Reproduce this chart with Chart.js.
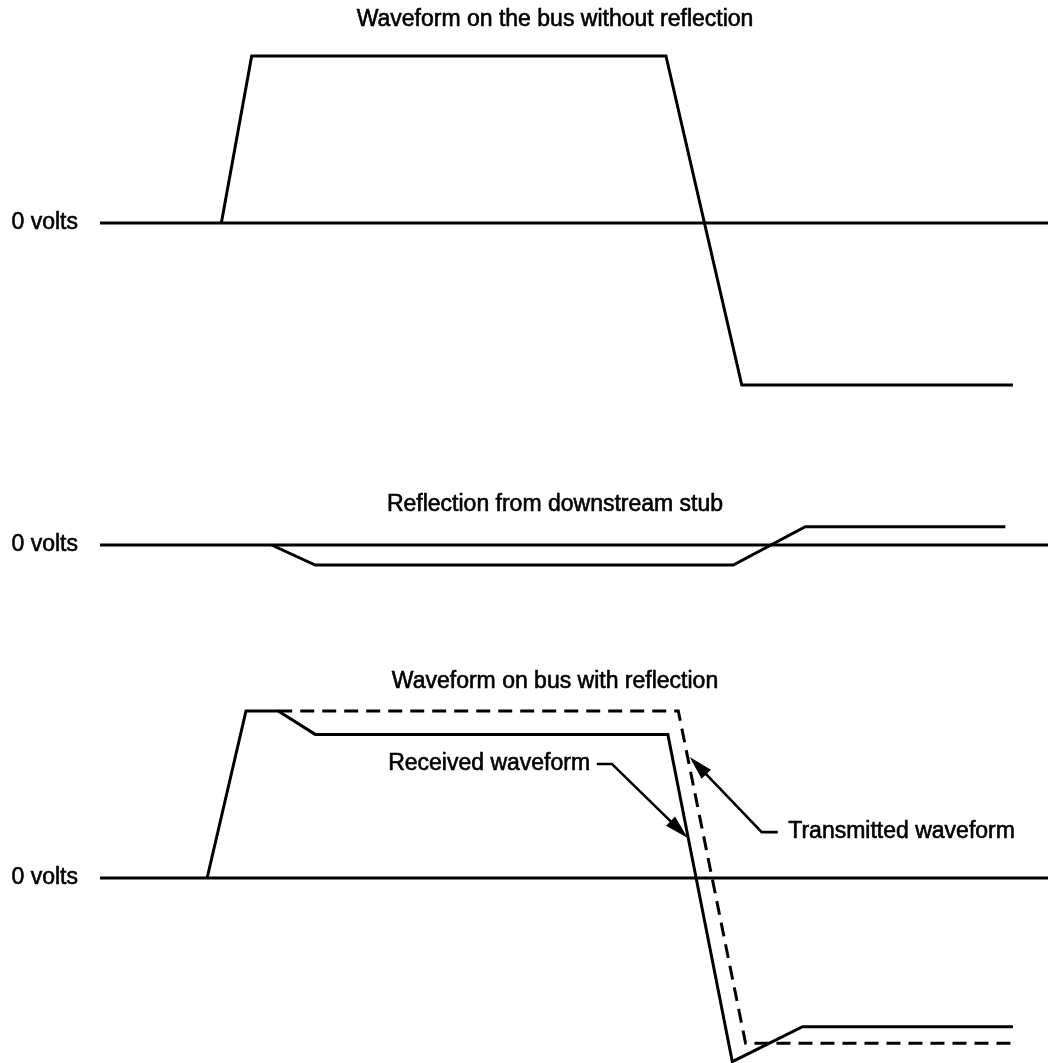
<!DOCTYPE html>
<html>
<head>
<meta charset="utf-8">
<script src="https://cdn.jsdelivr.net/npm/chart.js@4.4.1/dist/chart.umd.min.js"></script>
<style>
  html, body { margin: 0; padding: 0; background: #fff; }
  body { width: 1048px; height: 1063px; position: relative; overflow: hidden; }
  canvas { position: absolute; left: 0; }
</style>
</head>
<body>
<canvas id="c1" width="1048" height="440" style="top:0px"></canvas>
<canvas id="c2" width="1048" height="180" style="top:440px"></canvas>
<canvas id="c3" width="1048" height="443" style="top:620px"></canvas>
<script>
// ---- data (time in arbitrary units 0..100, amplitude in normalised volts) ----
const titles = [
  'Waveform on the bus without reflection',
  'Reflection from downstream stub',
  'Waveform on bus with reflection'
];
const zeroLabel = '0 volts';

const zeroT = [0, 100];
const zeroV = [0, 0];

const busT = [12.8, 16.0, 59.7, 67.7, 96.3];
const busV = [0, 1, 1, -0.97, -0.97];

const stubT = [18.1, 22.7, 66.8, 74.4, 95.5];
const stubV = [0, -0.12, -0.12, 0.11, 0.11];

const rxT = [11.3, 15.4, 18.8, 22.7, 59.9, 66.7, 74.1, 96.3];
const rxV = [0, 1, 1, 0.86, 0.86, -1.10, -0.89, -0.89];

const txT = [18.8, 61.0, 68.1, 96.3];
const txV = [1, 1, -0.99, -0.99];

const noteTexts = ['Received waveform', 'Transmitted waveform'];
const noteAnchorT = [51.7, 72.6];
const noteAnchorV = [0.683, 0.275];
const notePathT = [[52.4, 54.0, 62.0], [71.5, 69.8, 62.2]];
const notePathV = [[0.683, 0.683, 0.240], [0.275, 0.275, 0.725]];

// ---- helpers ----
const FONT = '23px "Liberation Sans", Arial, Helvetica, sans-serif';
const pts = (t, v) => t.map((x, i) => ({ x: x, y: v[i] }));

const panelText = {
  id: 'panelText',
  afterDatasetsDraw(chart, args, opts) {
    const ctx = chart.ctx, xs = chart.scales.x, ys = chart.scales.y;
    ctx.save();
    ctx.fillStyle = '#000';
    ctx.strokeStyle = '#000';
    ctx.font = FONT;
    ctx.textBaseline = 'middle';
    const txt = (s, x, y) => { ctx.lineWidth = 0.6; ctx.fillText(s, x, y); ctx.strokeText(s, x, y); };
    if (opts.title) {
      ctx.textAlign = 'center';
      txt(opts.title, opts.titleX, opts.titleY);
    }
    const notes = opts.notes || [];
    for (let k = 0; k < notes.length; k++) {
      const n = notes[k];
      ctx.textAlign = n.align;
      txt(n.text, xs.getPixelForValue(n.t), ys.getPixelForValue(n.v));
      const p = n.pathT.map((t, i) => [xs.getPixelForValue(t), ys.getPixelForValue(n.pathV[i])]);
      const tip = p[p.length - 1], prev = p[p.length - 2];
      const a = Math.atan2(tip[1] - prev[1], tip[0] - prev[0]);
      const L = 24, W = 6.5;
      const bx = tip[0] - L * Math.cos(a), by = tip[1] - L * Math.sin(a);
      ctx.beginPath();
      ctx.moveTo(p[0][0], p[0][1]);
      for (let i = 1; i < p.length - 1; i++) ctx.lineTo(p[i][0], p[i][1]);
      ctx.lineTo(bx + 2 * Math.cos(a), by + 2 * Math.sin(a));
      ctx.lineWidth = 2.6;
      ctx.lineJoin = 'miter';
      ctx.stroke();
      ctx.beginPath();
      ctx.moveTo(tip[0], tip[1]);
      ctx.lineTo(bx + W * Math.sin(a), by - W * Math.cos(a));
      ctx.lineTo(bx - W * Math.sin(a), by + W * Math.cos(a));
      ctx.closePath();
      ctx.fill();
    }
    ctx.restore();
  }
};

function lineDs(t, v, dash) {
  return {
    data: pts(t, v),
    borderColor: '#000',
    borderWidth: 3,
    borderDash: dash || [],
    borderCapStyle: 'butt',
    borderJoinStyle: 'miter',
    pointRadius: 0,
    tension: 0,
    fill: false
  };
}

function makeChart(id, datasets, yMin, yMax, textOpts) {
  return new Chart(document.getElementById(id), {
    type: 'line',
    data: { datasets: datasets },
    plugins: [panelText],
    options: {
      responsive: false,
      animation: false,
      devicePixelRatio: 1,
      layout: { padding: 0 },
      events: [],
      scales: {
        x: { type: 'linear', min: 0, max: 100, display: false },
        y: {
          type: 'linear', min: yMin, max: yMax,
          grid: { display: false, drawTicks: false },
          border: { display: false },
          afterBuildTicks: (s) => { s.ticks = [{ value: 0 }]; },
          afterFit: (s) => { s.width = 100; s.paddingTop = 0; s.paddingBottom = 0; },
          ticks: {
            padding: 22,
            color: '#000',
            textStrokeColor: '#000',
            textStrokeWidth: 0.6,
            font: { family: '"Liberation Sans", Arial, Helvetica, sans-serif', size: 23 },
            callback: (v) => (v === 0 ? zeroLabel : '')
          }
        }
      },
      plugins: {
        legend: { display: false },
        tooltip: { enabled: false },
        title: { display: false },
        panelText: textOpts
      }
    }
  });
}

// panel 1: zero at y=223 of 440px canvas, 167 px per unit
makeChart('c1', [lineDs(zeroT, zeroV), lineDs(busT, busV)],
  -217 / 167, 223 / 167,
  { title: titles[0], titleX: 555, titleY: 20, notes: [] });

// panel 2: zero at y=105 of 180px canvas
makeChart('c2', [lineDs(zeroT, zeroV), lineDs(stubT, stubV)],
  -75 / 167, 105 / 167,
  { title: titles[1], titleX: 555, titleY: 65, notes: [] });

// panel 3: zero at y=258 of 443px canvas
const notes = noteTexts.map((txt, i) => ({
  text: txt,
  align: i === 0 ? 'right' : 'left',
  t: noteAnchorT[i], v: noteAnchorV[i],
  pathT: notePathT[i], pathV: notePathV[i]
}));
makeChart('c3', [lineDs(zeroT, zeroV), lineDs(rxT, rxV), lineDs(txT, txV, [14, 8])],
  -185 / 167, 258 / 167,
  { title: titles[2], titleX: 555, titleY: 62, notes: notes });
</script>
</body>
</html>
